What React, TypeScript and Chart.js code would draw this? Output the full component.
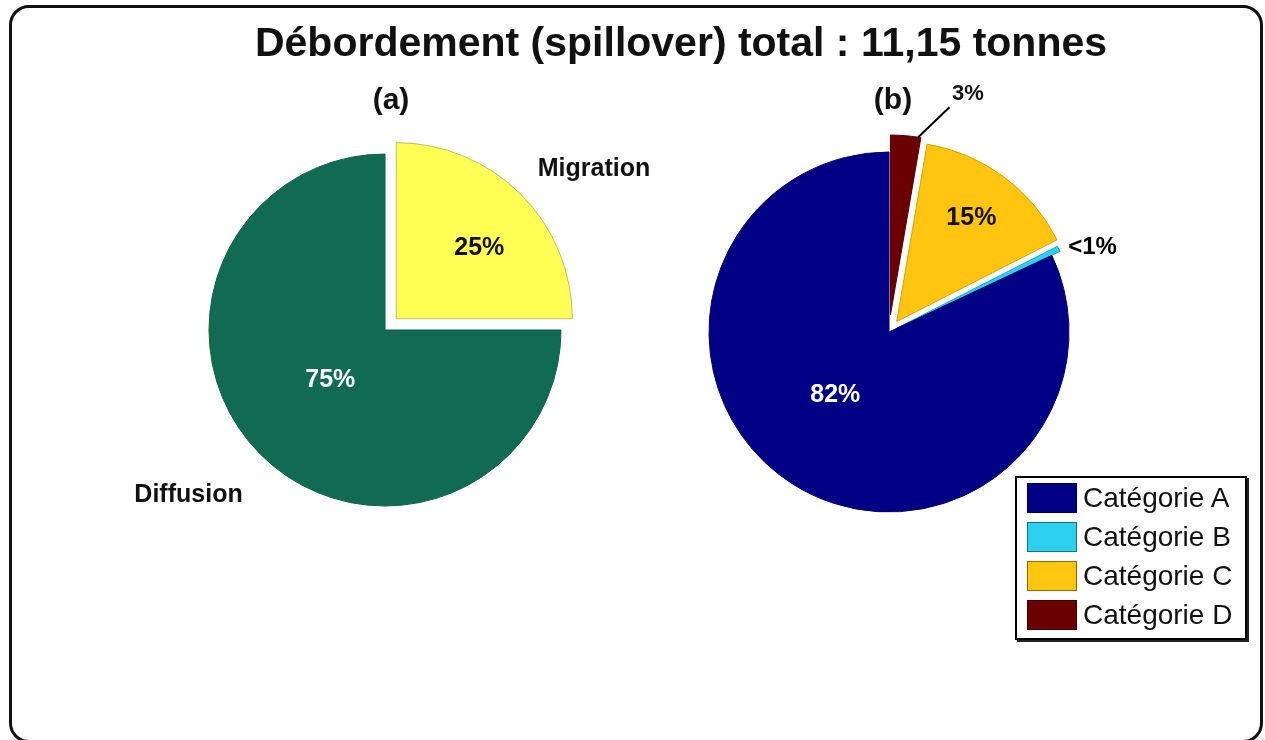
import React, { useEffect, useRef } from 'react';
import { Chart, registerables } from 'chart.js';

Chart.register(...registerables);

const FONT = '"Liberation Sans", Arial, Helvetica, sans-serif';

const TITLE = 'Débordement (spillover) total : 11,15 tonnes';
const PANEL_A = '(a)';
const PANEL_B = '(b)';

// Pie (a): transport modes (clockwise from the top)
const modeLabels = ['Migration', 'Diffusion'];
const modeValues = [25, 75];
const modePctLabels = ['25%', '75%'];
const modeColors = ['#ffff55', '#116b53'];
const modeBorders = ['#c2bc5c', '#0f6049'];

// Pie (b): categories (legend order A..D, drawn counter-clockwise from the top)
const catLabels = ['Catégorie A', 'Catégorie B', 'Catégorie C', 'Catégorie D'];
const catValues = [82, 0.5, 14.8, 2.7];
const catPctLabels = ['82%', '<1%', '15%', '3%'];
const catColors = ['#000085', '#2ed0f0', '#ffc510', '#6a0000'];
const catBorders = ['#000070', '#1aa8c8', '#d9a000', '#560000'];

// styles
const explodeA = [16, 0];
const explodeB = [0, 9, 13, 17];

type LabelCfg = {
  i: number;
  text: string;
  frac: number;
  dAng: number;
  align: CanvasTextAlign;
  color: string;
  size: number;
  leader?: { f0: number; a0: number; f1: number; a1: number };
};

function explodePlugin(dist: number[]) {
  return {
    id: 'explode',
    afterDatasetsUpdate(chart: any) {
      const meta = chart.getDatasetMeta(0);
      meta.data.forEach((el: any, i: number) => {
        const d = dist[i] || 0;
        if (!d) return;
        const mid = (el.startAngle + el.endAngle) / 2;
        el.x += Math.cos(mid) * d;
        el.y += Math.sin(mid) * d;
      });
    },
  };
}

function labelPlugin(cfgs: LabelCfg[]) {
  return {
    id: 'sliceLabels',
    afterDatasetsDraw(chart: any) {
      const ctx: CanvasRenderingContext2D = chart.ctx;
      const meta = chart.getDatasetMeta(0);
      cfgs.forEach((c) => {
        const el: any = meta.data[c.i];
        if (!el) return;
        const mid = (el.startAngle + el.endAngle) / 2;
        const R = el.outerRadius;
        const pt = (f: number, deg: number) => {
          const a = mid + (deg * Math.PI) / 180;
          return [el.x + Math.cos(a) * R * f, el.y + Math.sin(a) * R * f];
        };
        ctx.save();
        if (c.leader) {
          const [x0, y0] = pt(c.leader.f0, c.leader.a0);
          const [x1, y1] = pt(c.leader.f1, c.leader.a1);
          ctx.strokeStyle = '#000';
          ctx.lineWidth = 2;
          ctx.beginPath();
          ctx.moveTo(x0, y0);
          ctx.lineTo(x1, y1);
          ctx.stroke();
        }
        const [tx, ty] = pt(c.frac, c.dAng);
        ctx.font = `bold ${c.size}px ${FONT}`;
        ctx.fillStyle = c.color;
        ctx.textAlign = c.align;
        ctx.textBaseline = 'middle';
        ctx.fillText(c.text, tx, ty);
        ctx.restore();
      });
    },
  };
}

function makePie(
  canvas: HTMLCanvasElement,
  labels: string[],
  values: number[],
  colors: string[],
  borders: string[],
  radius: number,
  explode: number[],
  lbls: LabelCfg[]
) {
  return new Chart(canvas, {
    type: 'pie',
    data: {
      labels,
      datasets: [
        {
          data: values,
          backgroundColor: colors,
          borderColor: borders,
          borderWidth: 1,
          hoverOffset: 0,
        },
      ],
    },
    options: {
      animation: false,
      responsive: false,
      events: [],
      radius,
      layout: { padding: 0 },
      plugins: {
        legend: { display: false },
        title: { display: false },
        tooltip: { enabled: false },
      },
    },
    plugins: [explodePlugin(explode), labelPlugin(lbls)],
  } as any);
}

const rev = <T,>(a: T[]) => a.slice().reverse();

export default function App() {
  const refA = useRef<HTMLCanvasElement>(null);
  const refB = useRef<HTMLCanvasElement>(null);

  useEffect(() => {
    const labelsA: LabelCfg[] = [
      { i: 0, text: modePctLabels[0], frac: 0.62, dAng: 4.5, align: 'center', color: '#111', size: 25 },
      { i: 0, text: modeLabels[0], frac: 1.17, dAng: -1.6, align: 'left', color: '#111', size: 25 },
      { i: 1, text: modePctLabels[1], frac: 0.42, dAng: 2.7, align: 'center', color: '#fff', size: 25 },
      { i: 1, text: modeLabels[1], frac: 1.24, dAng: -4.3, align: 'right', color: '#111', size: 25 },
    ];
    // chart order for (b) is reversed: D, C, B, A
    const labelsB: LabelCfg[] = [
      { i: 3, text: catPctLabels[0], frac: 0.46, dAng: 8, align: 'center', color: '#fff', size: 25 },
      { i: 1, text: catPctLabels[2], frac: 0.71, dAng: -0.6, align: 'center', color: '#111', size: 25 },
      {
        i: 0, text: catPctLabels[3], frac: 1.3, dAng: 14.5, align: 'center', color: '#111', size: 22,
        leader: { f0: 1.0, a0: 4, f1: 1.2, a1: 11 },
      },
      { i: 2, text: catPctLabels[1], frac: 1.05, dAng: 1, align: 'left', color: '#000', size: 24 },
    ];
    const a = makePie(refA.current!, modeLabels, modeValues, modeColors, modeBorders, 176, explodeA, labelsA);
    const b = makePie(
      refB.current!,
      rev(catLabels),
      rev(catValues),
      rev(catColors),
      rev(catBorders),
      180,
      rev(explodeB),
      labelsB
    );
    return () => {
      a.destroy();
      b.destroy();
    };
  }, []);

  const textTop = (baseline: number, fs: number) => baseline - 0.8465 * fs;

  return (
    <div
      style={{
        position: 'absolute',
        left: 0,
        top: 0,
        width: 1265,
        height: 740,
        overflow: 'hidden',
        background: '#fff',
        fontFamily: FONT,
      }}
    >
      <div
        style={{
          position: 'absolute',
          left: 9,
          top: 5,
          width: 1254,
          height: 738,
          border: '3px solid #111',
          borderRadius: 20,
          boxSizing: 'border-box',
        }}
      />
      <canvas
        ref={refA}
        width={770}
        height={660}
        style={{ position: 'absolute', left: 0, top: 0, width: 770, height: 660 }}
      />
      <canvas
        ref={refB}
        width={600}
        height={664}
        style={{ position: 'absolute', left: 589, top: 0, width: 600, height: 664 }}
      />
      <div
        style={{
          position: 'absolute',
          left: 0,
          width: 1362,
          top: textTop(57, 41),
          fontSize: 41,
          lineHeight: '41px',
          fontWeight: 'bold',
          textAlign: 'center',
          color: '#111',
          whiteSpace: 'nowrap',
        }}
      >
        {TITLE}
      </div>
      <div
        style={{
          position: 'absolute',
          left: 291,
          width: 200,
          top: textTop(109, 30),
          fontSize: 30,
          lineHeight: '30px',
          fontWeight: 'bold',
          textAlign: 'center',
          color: '#111',
        }}
      >
        {PANEL_A}
      </div>
      <div
        style={{
          position: 'absolute',
          left: 793,
          width: 200,
          top: textTop(109, 30),
          fontSize: 30,
          lineHeight: '30px',
          fontWeight: 'bold',
          textAlign: 'center',
          color: '#111',
        }}
      >
        {PANEL_B}
      </div>
      <div
        style={{
          position: 'absolute',
          left: 1015,
          top: 476,
          width: 232,
          height: 164,
          border: '2px solid #000',
          boxShadow: '2px 2px 0 #222',
          boxSizing: 'border-box',
          background: '#fff',
        }}
      >
        {catLabels.map((lab, i) => (
          <div
            key={lab}
            style={{
              position: 'absolute',
              left: 10,
              top: 5 + i * 39,
              height: 30,
              display: 'flex',
              alignItems: 'center',
              whiteSpace: 'nowrap',
            }}
          >
            <div
              style={{
                width: 50,
                height: 30,
                background: catColors[i],
                border: '1px solid rgba(0,0,0,0.45)',
                boxSizing: 'border-box',
              }}
            />
            <span style={{ marginLeft: 6, fontSize: 28, lineHeight: '30px', color: '#111' }}>{lab}</span>
          </div>
        ))}
      </div>
    </div>
  );
}
